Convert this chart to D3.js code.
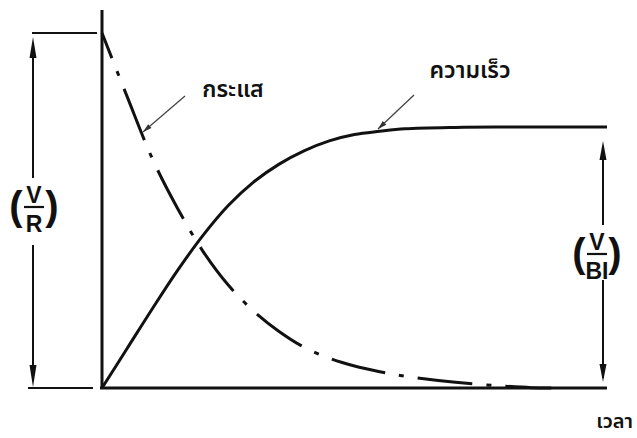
<!DOCTYPE html>
<html>
<head>
<meta charset="utf-8">
<script src="https://cdn.jsdelivr.net/npm/d3@7"></script>
<style>
  html, body { margin: 0; padding: 0; background: #fff; }
  svg { display: block; }
  .thai { font-family: "Noto Sans Thai", "Noto Sans Thai UI", "Leelawadee UI", "Noto Sans", sans-serif; fill: #111; font-weight: 600; }
  .frac { font-family: "Liberation Sans", Arial, sans-serif; font-weight: bold; fill: #111; }
</style>
</head>
<body>
<svg id="chart" width="637" height="438"></svg>
<script>
// Normalised time axis (0–10) and normalised amplitude (V/R = 1)
const currentT = [0, 0.5, 1.0, 1.5, 2.0, 2.5, 3.0, 3.5, 4.0, 4.5, 5.0, 5.5, 6.0, 7.0, 8.0, 8.5, 8.9];
const currentI = [1.0, 0.82, 0.645, 0.505, 0.385, 0.29, 0.217, 0.16, 0.115, 0.084, 0.062, 0.046, 0.033, 0.016, 0.005, 0.001, 0.0];

const speedT = [0, 0.5, 1.0, 1.5, 2.0, 2.5, 3.0, 3.5, 4.0, 4.5, 5.0, 5.5, 6.0, 7.0, 8.0, 10.0];
const speedV = [0, 0.112, 0.224, 0.332, 0.43, 0.514, 0.58, 0.63, 0.668, 0.696, 0.714, 0.723, 0.73, 0.734, 0.735, 0.735];

const currentLevel = 1.0;      // V/R
const speedLevel = 0.735;      // V/BI
const labelCurrent = "กระแส";
const labelSpeed = "ความเร็ว";
const labelTime = "เวลา";

const svg = d3.select("#chart");
const x = d3.scaleLinear().domain([0, 10]).range([102, 607]);
const y = d3.scaleLinear().domain([0, 1]).range([388, 33]);

const line = d3.line().x(d => x(d[0])).y(d => y(d[1])).curve(d3.curveCatmullRom.alpha(0.5));

// axes
svg.append("line").attr("x1", x(0)).attr("x2", x(0)).attr("y1", 10).attr("y2", y(0) + 1)
  .attr("stroke", "#111").attr("stroke-width", 3);
svg.append("line").attr("x1", x(0) - 2).attr("x2", x(10)).attr("y1", y(0)).attr("y2", y(0))
  .attr("stroke", "#111").attr("stroke-width", 3);

// current: dash-dot decay
svg.append("path")
  .datum(currentT.map((t, i) => [t, currentI[i]]))
  .attr("d", line)
  .attr("fill", "none").attr("stroke", "#111").attr("stroke-width", 3)
  .attr("stroke-dasharray", "55,14,5,14").attr("stroke-dashoffset", 28);

// speed: solid rise
svg.append("path")
  .datum(speedT.map((t, i) => [t, speedV[i]]))
  .attr("d", line)
  .attr("fill", "none").attr("stroke", "#111").attr("stroke-width", 3);

function arrowHead(g, xc, ytip, dir, len, half) {
  const yb = ytip + dir * len;
  g.append("path").attr("d", `M${xc},${ytip}L${xc - half},${yb}L${xc + half},${yb}Z`).attr("fill", "#111");
}

function fraction(g, cx, barY, num, den) {
  g.append("text").attr("class", "frac").attr("x", cx).attr("y", barY - 4)
    .attr("text-anchor", "middle").attr("font-size", 23).text(num);
  g.append("line").attr("x1", cx - 10).attr("x2", cx + 10).attr("y1", barY).attr("y2", barY)
    .attr("stroke", "#111").attr("stroke-width", 2.2);
  g.append("text").attr("class", "frac").attr("x", cx).attr("y", barY + 25)
    .attr("text-anchor", "middle").attr("font-size", 23).text(den);
  g.append("text").attr("class", "frac").attr("x", cx - 18).attr("y", barY + 13)
    .attr("text-anchor", "middle").attr("font-size", 40).text("(");
  g.append("text").attr("class", "frac").attr("x", cx + 18).attr("y", barY + 13)
    .attr("text-anchor", "middle").attr("font-size", 40).text(")");
}

// V/R dimension on the left
(function () {
  const g = svg.append("g");
  const xc = 33, top = y(currentLevel), bot = y(0);
  g.append("line").attr("x1", 32).attr("x2", 97).attr("y1", top).attr("y2", top).attr("stroke", "#111").attr("stroke-width", 2);
  g.append("line").attr("x1", 28).attr("x2", 93).attr("y1", bot).attr("y2", bot).attr("stroke", "#111").attr("stroke-width", 2);
  g.append("line").attr("x1", xc).attr("x2", xc).attr("y1", top + 10).attr("y2", 178).attr("stroke", "#111").attr("stroke-width", 2);
  g.append("line").attr("x1", xc).attr("x2", xc).attr("y1", 245).attr("y2", bot - 10).attr("stroke", "#111").attr("stroke-width", 2);
  arrowHead(g, xc, top + 4, 1, 21, 3.5);
  arrowHead(g, xc, bot - 1, -1, 22, 3.5);
  fraction(g, 34, 207, "V", "R");
})();

// V/BI dimension on the right
(function () {
  const g = svg.append("g");
  const xc = 603, top = y(speedLevel), bot = y(0);
  g.append("line").attr("x1", xc).attr("x2", xc).attr("y1", top + 20).attr("y2", 225).attr("stroke", "#111").attr("stroke-width", 2);
  g.append("line").attr("x1", xc).attr("x2", xc).attr("y1", 280).attr("y2", bot - 10).attr("stroke", "#111").attr("stroke-width", 2);
  arrowHead(g, xc, top + 14, 1, 19, 3.5);
  arrowHead(g, xc, bot - 6, -1, 18, 3.5);
  fraction(g, 597, 254, "V", "BI");
})();

// callout arrows
function callout(x1, y1, x2, y2) {
  svg.append("line").attr("x1", x1).attr("y1", y1).attr("x2", x2).attr("y2", y2)
    .attr("stroke", "#444").attr("stroke-width", 1.3);
  const a = Math.atan2(y2 - y1, x2 - x1), L = 9, W = 2.6;
  const bx = x2 - L * Math.cos(a), by = y2 - L * Math.sin(a);
  svg.append("path").attr("d",
    `M${x2},${y2}L${bx + W * Math.sin(a)},${by - W * Math.cos(a)}L${bx - W * Math.sin(a)},${by + W * Math.cos(a)}Z`)
    .attr("fill", "#333");
}
callout(185, 96, 143, 132);
callout(414, 95, 378, 129);

// labels
svg.append("text").attr("class", "thai").attr("x", 233).attr("y", 97).attr("text-anchor", "middle")
  .attr("font-size", 23).text(labelCurrent);
svg.append("text").attr("class", "thai").attr("x", 470).attr("y", 78).attr("text-anchor", "middle")
  .attr("font-size", 23).text(labelSpeed);
svg.append("text").attr("class", "thai").attr("x", 633).attr("y", 428).attr("text-anchor", "end")
  .attr("font-size", 20).text(labelTime);
</script>
</body>
</html>
